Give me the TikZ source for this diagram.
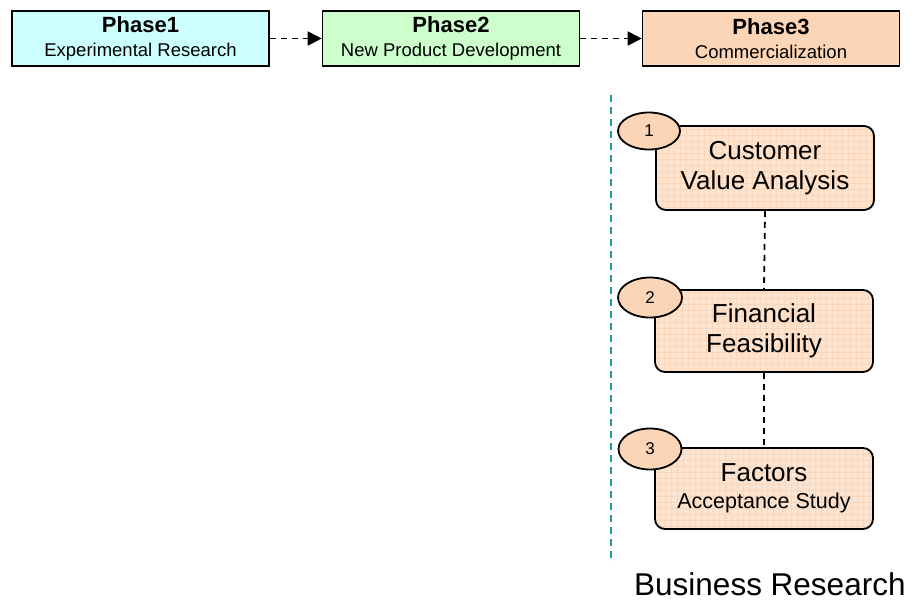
\documentclass[tikz,border=0pt]{standalone}
\usepackage{fontspec}
\setmainfont{Liberation Sans}
\usetikzlibrary{arrows.meta,shapes.geometric}
\definecolor{phaseA}{HTML}{CCFFFF}
\definecolor{phaseB}{HTML}{CCFFCC}
\definecolor{peach}{HTML}{FBD5B5}
\definecolor{peachlight}{HTML}{FDE4D0}
\definecolor{peachgrid}{HTML}{FAD6BA}
\definecolor{teal}{HTML}{1A9E96}
\tikzset{
  phasebox/.style={draw=black, line width=1.6pt, minimum width=257pt, minimum height=55pt,
    inner sep=0pt, align=center, font=\fontsize{18.5}{24}\selectfont},
  stepbox/.style={draw=black, line width=1.8pt, rounded corners=10pt, fill=peachlight,
    minimum width=218pt, inner sep=0pt, align=center,
    path picture={\draw[peachgrid, line width=0.6pt]
      (path picture bounding box.south west) grid[step=6pt] (path picture bounding box.north east);}},
  numtag/.style={ellipse, draw=black, line width=1.8pt, fill=peach, minimum width=62pt,
    minimum height=37pt, inner sep=0pt, font=\fontsize{17}{19}\selectfont},
  flow/.style={draw=black, line width=1.8pt, dash pattern=on 6pt off 5pt,
    -{Triangle[length=14pt,width=14pt]}},
  link/.style={draw=black, line width=1.8pt, dash pattern=on 6pt off 5pt},
  divider/.style={draw=teal, line width=1.8pt, dash pattern=on 7pt off 5pt},
}
\newcommand{\phasetext}[2]{{\fontsize{22}{24}\selectfont\bfseries #1}\\ #2}
\begin{document}
\begin{tikzpicture}[x=1pt,y=-1pt]
\useasboundingbox (0,0) rectangle (912,603);

% phase header
\node[phasebox, fill=phaseA] (p1) at (140.5,38.5) {\phasetext{Phase1}{Experimental Research}};
\node[phasebox, fill=phaseB] (p2) at (451,38.5) {\phasetext{Phase2}{New Product Development}};
\node[phasebox, fill=peach]  (p3) at (771,38.5) {\phasetext{Phase3}{Commercialization}};
\draw[flow] (p1.east) -- (p2.west);
\draw[flow] (p2.east) -- (p3.west);

% divider line
\coordinate (dtop) at (611,95);
\coordinate (dbot) at (611,563);
\draw[divider] (dtop) -- (dbot);

% research steps
\node[stepbox, minimum height=84pt, font=\fontsize{26}{30}\selectfont] (s1) at (765,168)
  {Customer\\ Value Analysis};
\node[stepbox, minimum height=82pt, font=\fontsize{26}{30}\selectfont] (s2) at (764,331)
  {Financial\\ Feasibility};
\node[stepbox, minimum height=81pt, font=\fontsize{21.5}{27}\selectfont] (s3) at (764,488.5)
  {{\fontsize{26}{27}\selectfont Factors}\\ Acceptance Study};

\draw[link] (s1.south) -- (s2.north);
\draw[link] (s2.south) -- (s3.north);

\node[numtag] (n1) at (649,131) {1};
\node[numtag, minimum width=64pt, minimum height=40pt] (n2) at (650,297.5) {2};
\node[numtag, minimum width=63pt, minimum height=41pt] (n3) at (650,449) {3};

\node[anchor=base west, inner sep=0pt, font=\fontsize{31.5}{36}\selectfont] (title) at (634,595) {Business Research};
\end{tikzpicture}
\end{document}
